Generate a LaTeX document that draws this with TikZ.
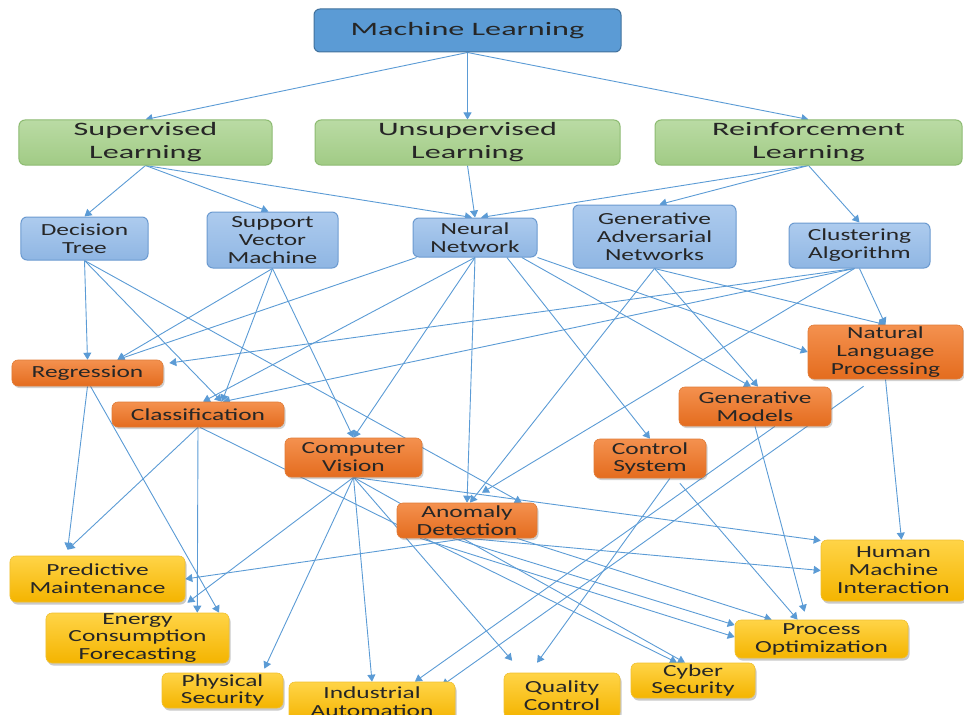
\documentclass[tikz,border=0pt]{standalone}
\usepackage{fontspec}
\setmainfont{Carlito}
\newfontfamily\headfont[FakeStretch=1.7]{Carlito}
\newfontfamily\bodyfont[FakeStretch=1.5]{Carlito}
\usetikzlibrary{arrows.meta,shadows,backgrounds}

\definecolor{mlfill}{HTML}{5B9BD5}
\definecolor{mlline}{HTML}{41719C}
\definecolor{grtop}{HTML}{BADBA4}
\definecolor{grbot}{HTML}{A1CB85}
\definecolor{grline}{HTML}{8DBB72}
\definecolor{bltop}{HTML}{ADCBEE}
\definecolor{blbot}{HTML}{8FB6E3}
\definecolor{blline}{HTML}{6B9AD0}
\definecolor{ortop}{HTML}{F4914F}
\definecolor{orbot}{HTML}{E46C1E}
\definecolor{orline}{HTML}{E07B36}
\definecolor{yetop}{HTML}{FFD447}
\definecolor{yebot}{HTML}{F4B400}
\definecolor{yeline}{HTML}{F0C030}
\definecolor{arrowblue}{HTML}{5B9BD5}
\definecolor{ink}{HTML}{262626}

\tikzset{
  sz/.style 2 args={minimum width=#1bp,minimum height=#2bp},
  box/.style={rounded corners=6bp, inner sep=0pt, align=center, text=ink},
  rootbox/.style={box, fill=mlfill, draw=mlline, line width=1bp,
    font=\headfont\fontsize{19}{22}\selectfont},
  learnbox/.style={box, top color=grtop, bottom color=grbot, draw=grline, line width=1bp,
    font=\headfont\fontsize{19}{23}\selectfont},
  modelbox/.style={box, top color=bltop, bottom color=blbot, draw=blline, line width=1bp,
    font=\bodyfont\fontsize{17}{18}\selectfont},
  taskbox/.style={box, top color=ortop, bottom color=orbot, draw=orline, line width=0.6bp,
    drop shadow={shadow xshift=1.5bp, shadow yshift=-2bp, opacity=0.3, fill=black!60},
    font=\bodyfont\fontsize{17}{18}\selectfont},
  appbox/.style={box, top color=yetop, bottom color=yebot, draw=yeline, line width=0.6bp,
    drop shadow={shadow xshift=1.5bp, shadow yshift=-2.5bp, opacity=0.35, fill=black!60},
    font=\bodyfont\fontsize{17}{18}\selectfont},
  link/.style={draw=arrowblue, line width=0.9bp, -{Triangle[length=7bp,width=8bp]}}
}

\begin{document}
\begin{tikzpicture}[x=1bp,y=-1bp]
\useasboundingbox (0,0) rectangle (964,715);

% root
\node[rootbox, sz={307}{43}] (ml) at (467.5,30.5) {Machine Learning};

% learning paradigms
\node[learnbox, sz={253}{45}] (sl) at (145.5,142.5) {Supervised\\Learning};
\node[learnbox, sz={305}{45}] (ul) at (467.5,142.5) {Unsupervised\\Learning};
\node[learnbox, sz={307}{45}] (rl) at (808.5,142.5) {Reinforcement\\Learning};

% models
\node[modelbox, sz={127}{43}] (dt)  at (84.5,238.5) {Decision\\Tree};
\node[modelbox, sz={131}{56}] (svm) at (272.5,240) {Support\\Vector\\Machine};
\node[modelbox, sz={124}{39}] (nn)  at (475,237.5) {Neural\\Network};
\node[modelbox, sz={163}{63}] (gan) at (654.5,236.5) {Generative\\Adversarial\\Networks};
\node[modelbox, sz={141}{45}] (ca)  at (859.5,245.5) {Clustering\\Algorithm};

% tasks
\node[taskbox, sz={151}{26}] (reg) at (87.5,373) {Regression};
\node[taskbox, sz={172}{25}] (cls) at (198,414.5) {Classification};
\node[taskbox, sz={137}{39}] (cv)  at (353.5,457.5) {Computer\\Vision};
\node[taskbox, sz={140}{35}] (ad)  at (467,520.5) {Anomaly\\Detection};
\node[taskbox, sz={155}{54}] (nlp) at (885.5,352) {Natural\\Language\\Processing};
\node[taskbox, sz={152}{39}] (gm)  at (755,406.5) {Generative\\Models};
\node[taskbox, sz={112}{39}] (cs)  at (650,458.5) {Control\\System};

% applications
\node[appbox, sz={175}{46}] (pm)  at (97.5,579) {Predictive\\Maintenance};
\node[appbox, sz={183}{50}] (ecf) at (137.5,638) {Energy\\Consumption\\Forecasting};
\node[appbox, sz={121}{35}] (ps)  at (222.5,690.5) {Physical\\Security};
\node[appbox, sz={166}{40}] (ia)  at (372,702) {Industrial\\Automation};
\node[appbox, sz={116}{45}] (qc)  at (562,695.5) {Quality\\Control};
\node[appbox, sz={124}{35}] (cyb) at (693,680.5) {Cyber\\Security};
\node[appbox, sz={173}{38}] (po)  at (821.5,639) {Process\\Optimization};
\node[appbox, sz={145}{61}] (hmi) at (893.5,570.5) {Human\\Machine\\Interaction};

\begin{pgfonlayer}{background}
% root to paradigms
\draw[link] (ml.south) -- (sl.north);
\draw[link] (ml.south) -- (ul.north);
\draw[link] (ml.south) -- (rl.north);
% paradigms to models
\draw[link] (sl.south) -- (dt.north);
\draw[link] (sl.south) -- ([xshift=-4]svm.north);
\draw[link] (sl.south) -- ([xshift=-3]nn.north);
\draw[link] (ul.south) -- (nn.north);
\draw[link] (rl.south) -- ([xshift=6]nn.north);
\draw[link] (rl.south) -- ([xshift=5]gan.north);
\draw[link] (rl.south) -- (ca.north);
% models to tasks
\draw[link] (dt.south) -- (reg.north);
\draw[link] (dt.south) -- ([xshift=24]cls.north);
\draw[link] (dt.south) -- ([xshift=55]ad.north);
\draw[link] (svm.south) -- ([xshift=30]reg.north);
\draw[link] (svm.south) -- ([xshift=24]cls.north);
\draw[link] (svm.south) -- (cv.north);
\draw[link] ([xshift=4]nn.south west) -- ([xshift=30]reg.north);
\draw[link] (nn.south) -- ([xshift=5]cls.north);
\draw[link] (nn.south) -- (cv.north);
\draw[link] (nn.south) -- (ad.north);
\draw[link] ([xshift=32]nn.south) -- (cs.north);
\draw[link] ([xshift=47]nn.south) -- ([xshift=-4]gm.north);
\draw[link] (nn.south east) -- (nlp.west);
\draw[link] (gan.south) -- ([xshift=3]ad.north);
\draw[link] (gan.south) -- ([xshift=3]gm.north);
\draw[link] (gan.south) -- (nlp.north);
\draw[link] (ca.south) -- (nlp.north);
\draw[link] ([xshift=-5]ca.south) -- ([xshift=6,yshift=10]reg.east);
\draw[link] ([xshift=-5]ca.south) -- ([xshift=25]cls.north);
\draw[link] ([xshift=-5]ca.south) -- ([xshift=15,yshift=10]ad.north);
% tasks to applications
\draw[link] (reg.south) -- ([xshift=-30,yshift=6]pm.north);
\draw[link] (cls.south) -- ([xshift=-30,yshift=6]pm.north);
\draw[link] (cls.south) -- ([xshift=60]ecf.north);
\draw[link] ([xshift=3]reg.south) -- ([xshift=82]ecf.north);
\draw[link] ([xshift=2]cls.south) -- ([xshift=-16]cyb.north);
\draw[link] (cv.south) -- ([xshift=50,yshift=10]ecf.north);
\draw[link] (cv.south) -- ([xshift=42,yshift=4]ps.north);
\draw[link] (cv.south) -- (ia.north);
\draw[link] (cv.south) -- ([xshift=-50,yshift=12]qc.north);
\draw[link] (cv.south) -- ([xshift=-8]cyb.north);
\draw[link] (cv.south) -- ([yshift=30]hmi.west);
\draw[link] (ad.south) -- (pm.east);
\draw[link] (ad.south) -- (hmi.west);
\draw[link] ([xshift=50]ad.south) -- ([xshift=-50]po.north);
\draw[link] ([xshift=-14]ad.south) -- ([yshift=14]po.west);
\draw[link] ([xshift=-47]ad.south) -- ([yshift=2]po.west);
\draw[link] (gm.south) -- ([xshift=-17,yshift=8]po.north);
\draw[link] ([xshift=20]gm.south) -- ([xshift=43]ia.north);
\draw[link] ([xshift=-22,yshift=-7]nlp.south) -- ([xshift=70,yshift=-4]ia.north);
\draw[link] (nlp.south) -- ([xshift=8]hmi.north);
\draw[link] ([xshift=20]cs.south) -- ([xshift=-25,yshift=10]qc.north);
\draw[link] ([xshift=30,yshift=-5]cs.south) -- ([xshift=-24]po.north);
\end{pgfonlayer}
\end{tikzpicture}
\end{document}
